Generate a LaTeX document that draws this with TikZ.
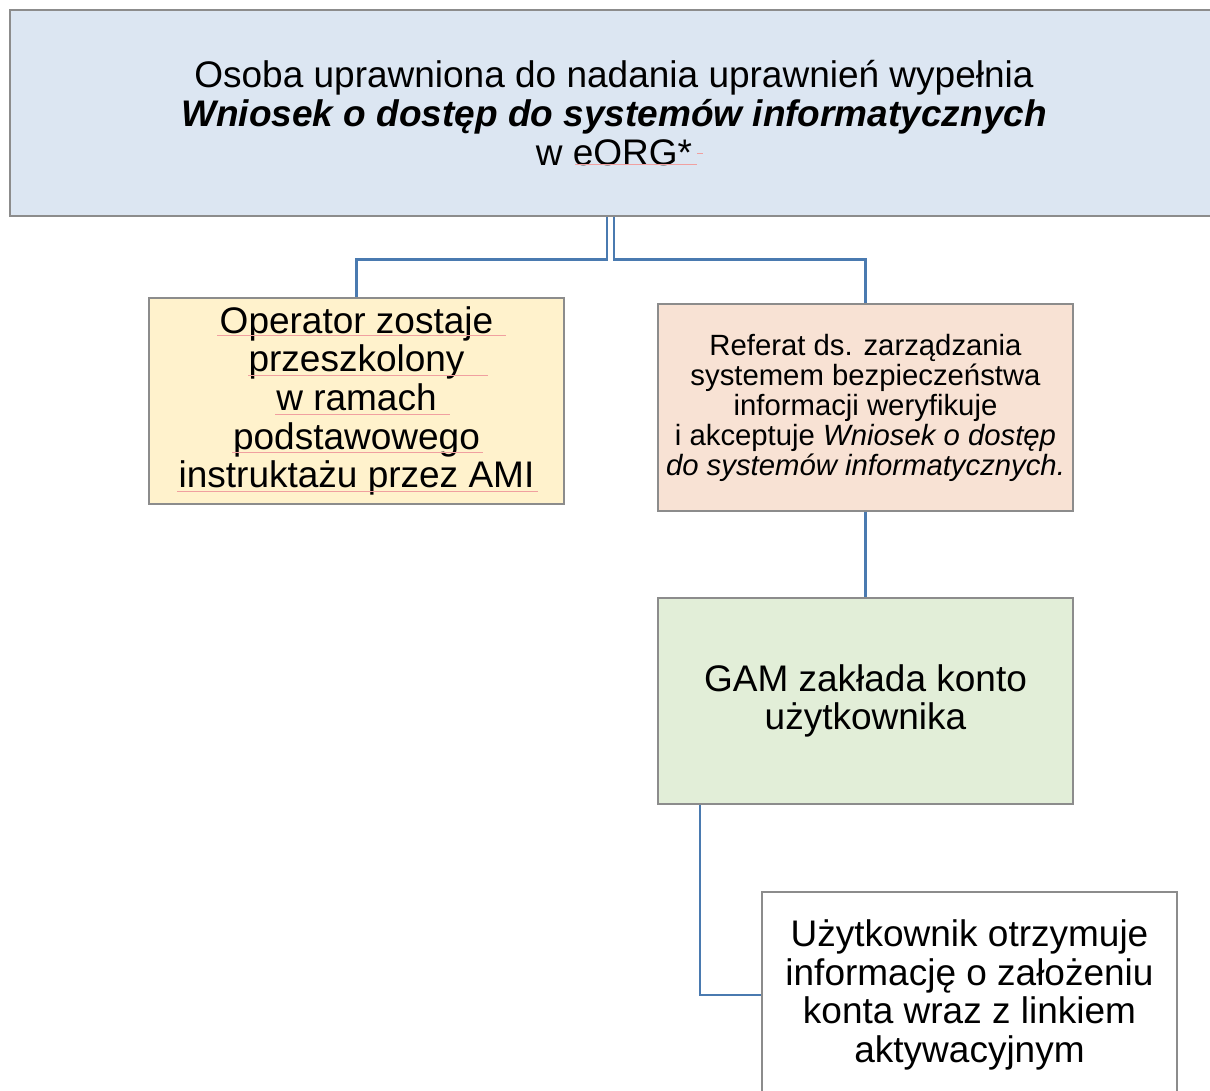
\documentclass[tikz,border=0pt]{standalone}
\usepackage{fontspec}
\setmainfont{Liberation Sans}
\definecolor{topblue}{RGB}{220,230,242}
\definecolor{boxyellow}{RGB}{255,242,204}
\definecolor{boxpink}{RGB}{248,226,212}
\definecolor{boxgreen}{RGB}{226,238,216}
\definecolor{linkblue}{RGB}{74,122,176}
\definecolor{edgegray}{RGB}{140,140,140}
\definecolor{squigred}{RGB}{240,160,160}
\tikzset{
  box/.style={draw=edgegray, line width=1.3pt, rectangle, align=center, inner sep=0pt,
              font=\fontsize{37}{38.7}\selectfont},
  smallbox/.style={box, font=\fontsize{29.3}{30}\selectfont},
  conn/.style={draw=linkblue, line width=2.2pt},
  squig/.style={draw=squigred, line width=0.9pt}
}
\begin{document}
\begin{tikzpicture}[x=1pt,y=-1pt]
\useasboundingbox (0,0) rectangle (1210,1091);
\fill[white] (0,0) rectangle (1210,1091);
% nodes
\node[box, fill=topblue, minimum width=1208pt, minimum height=206pt] (top) at (614,113)
  {Osoba uprawniona do nadania uprawnień wypełnia\\ \textbf{\textit{Wniosek o dostęp do systemów informatycznych}}\\ w eORG*};
\node[box, fill=boxyellow, minimum width=415pt, minimum height=206pt] (ylw) at (356.5,401)
  {Operator zostaje\\ przeszkolony\\ w ramach\\ podstawowego\\ instruktażu przez AMI};
\node[smallbox, fill=boxpink, minimum width=415pt, minimum height=207pt] (pnk) at (865.5,407.5)
  {Referat ds. zarządzania\\ systemem bezpieczeństwa\\ informacji weryfikuje\\ i akceptuje \textit{Wniosek o dostęp}\\ \textit{do systemów informatycznych.}};
\node[box, fill=boxgreen, minimum width=415pt, minimum height=206pt] (grn) at (865.5,701)
  {GAM zakłada konto\\ użytkownika};
\node[box, fill=white, minimum width=415pt, minimum height=206pt] (wht) at (969.5,995)
  {Użytkownik otrzymuje\\ informację o założeniu\\ konta wraz z linkiem\\ aktywacyjnym};
% connectors
\coordinate (jl) at (607,259.5);
\coordinate (jr) at (614,259.5);
\coordinate (jg) at (700,995);
\draw[conn] (top.south -| jl) -- (jl) -| (ylw.north);
\draw[conn] (top.south) -- (jr) -| (pnk.north);
\draw[conn] (pnk.south) -- (grn.north);
\draw[conn] (grn.south -| jg) -- (jg) -- (wht.west);
% spell-check marks
\draw[squig] (575,164) -- (697,164);
\draw[squig] (697,153) -- (703,153);
\draw[squig] (217,335.5) -- (506,335.5);
\draw[squig] (248,375) -- (488,375);
\draw[squig] (275,414) -- (450,414);
\draw[squig] (232,452) -- (483,452);
\draw[squig] (177,491) -- (538,491);
\end{tikzpicture}
\end{document}
